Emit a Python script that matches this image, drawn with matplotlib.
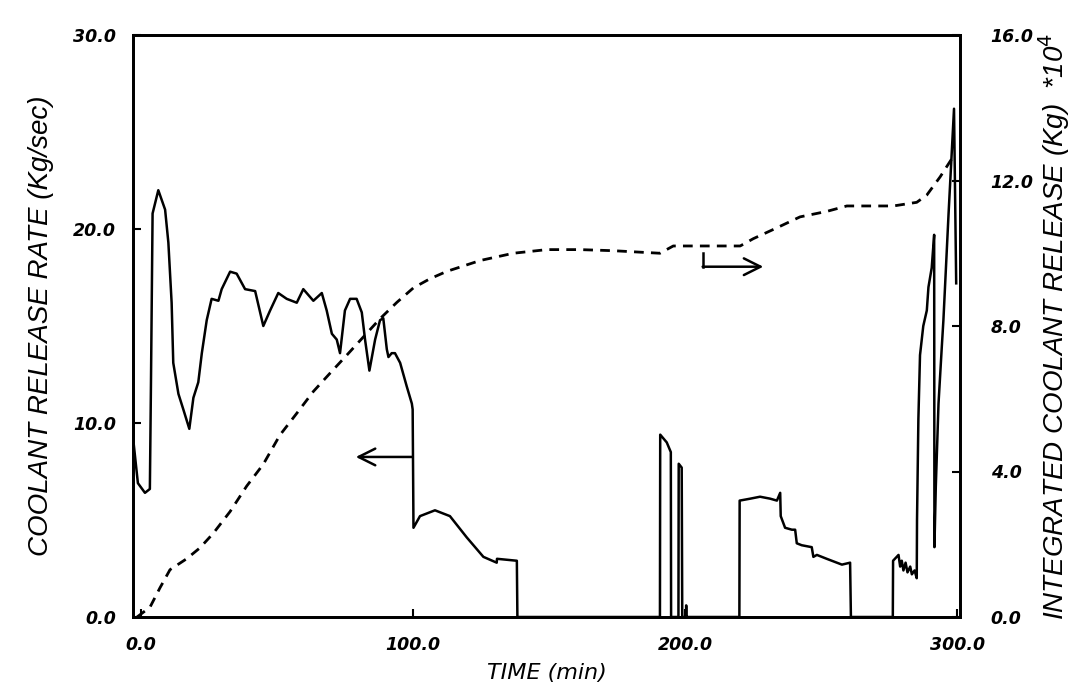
import matplotlib
matplotlib.use("Agg")
import matplotlib.pyplot as plt

# ---- data ----
rate_t = [-3.0, -2.8, -1.2, 1.4, 3.2, 3.6, 4.2, 6.3, 8.8, 10.0, 11.2, 11.8, 13.7, 15.5, 17.7,
          19.2, 21.0, 22.3, 24.1, 25.9, 28.4, 29.6, 32.7, 35.1, 38.2, 41.9, 44.9, 47.4, 50.4,
          53.5, 57.2, 59.6, 63.3, 66.4, 68.2, 70.1, 71.9, 73.1, 74.9, 76.8, 79.2, 81.1, 82.3,
          83.9, 86.0, 87.8, 89.0, 90.3, 90.9, 92.1, 93.3, 95.2, 97.6, 99.5, 99.8, 100.1, 102.5,
          108.0, 113.5, 119.7, 125.8, 130.7, 130.8, 138.1, 138.3,
          190.7, 190.8, 193.2, 194.7, 194.8, 197.5, 197.6, 198.7, 198.9,
          200.3, 200.35, 200.4,
          219.9, 220.0, 223.9, 227.5, 231.2, 233.7, 234.9, 235.1, 236.7, 239.2, 240.4, 241.0,
          242.8, 246.5, 247.1, 248.4, 252.0, 257.6, 260.6, 260.9,
          276.3, 276.4, 278.4, 279.0, 279.6, 280.2, 281.0, 281.7, 282.7, 283.3, 284.3, 285.1,
          285.2, 285.7, 286.3, 287.5, 288.8, 289.4, 290.6, 291.5, 291.6, 292.1, 293.1, 294.3,
          294.9, 296.8, 298.8, 299.6]
rate_v = [13.8, 9.0, 6.9, 6.4, 6.6, 12.0, 20.8, 22.0, 21.0, 19.3, 16.2, 13.1, 11.5, 10.7, 9.7,
          11.3, 12.1, 13.6, 15.3, 16.4, 16.3, 16.9, 17.8, 17.7, 16.9, 16.8, 15.0, 15.8, 16.7,
          16.4, 16.2, 16.9, 16.3, 16.7, 15.8, 14.6, 14.3, 13.6, 15.8, 16.4, 16.4, 15.7, 14.3,
          12.7, 14.3, 15.3, 15.4, 13.8, 13.4, 13.6, 13.6, 13.1, 11.9, 11.0, 10.7, 4.6, 5.2,
          5.5, 5.2, 4.1, 3.1, 2.8, 3.0, 2.9, 0.0,
          0.0, 9.4, 9.0, 8.5, 0.0, 0.0, 7.9, 7.7, 0.0,
          0.0, 0.6, 0.0,
          0.0, 6.0, 6.1, 6.2, 6.1, 6.0, 6.4, 5.2, 4.6, 4.5, 4.5, 3.8,
          3.7, 3.6, 3.1, 3.2, 3.0, 2.7, 2.8, 0.0,
          0.0, 2.9, 3.2, 2.6, 2.9, 2.4, 2.8, 2.3, 2.6, 2.2, 2.4, 2.0,
          5.0, 10.2, 13.5, 15.0, 15.8, 17.0, 18.0, 19.7, 3.6, 6.7, 11.0, 13.9,
          15.3, 20.8, 26.2, 17.2]

integ_t = [-1.5, 3.25, 6.9, 10.6, 16.7, 21.6, 26.5, 32.7, 38.8, 44.9, 51.0, 57.2, 63.3, 69.4,
           75.6, 81.7, 87.8, 94.0, 100.1, 106.2, 112.3, 124.6, 136.8, 149.1, 161.3, 173.6,
           190.7, 195.6, 203.0, 220.2, 225.0, 233.7, 242.2, 252.0, 259.4, 270.4, 276.5,
           285.1, 288.8, 293.7, 298.0]
integ_v = [0.0, 0.27, 0.8, 1.3, 1.6, 1.9, 2.3, 2.9, 3.6, 4.2, 5.0, 5.6, 6.2, 6.7,
           7.2, 7.7, 8.2, 8.65, 9.05, 9.3, 9.5, 9.8, 10.0, 10.1, 10.1, 10.07,
           10.0, 10.2, 10.2, 10.2, 10.4, 10.7, 11.0, 11.15, 11.3, 11.3, 11.3,
           11.4, 11.6, 12.1, 12.6]   # units of 1e4 kg

x_ticks = [0, 100, 200, 300]
x_ticklabels = ["0.0", "100.0", "200.0", "300.0"]
left_ticks = [0, 10, 20, 30]
left_ticklabels = ["0.0", "10.0", "20.0", "30.0"]
right_ticks = [0, 4, 8, 12, 16]
right_ticklabels = ["0.0", "4.0", "8.0", "12.0", "16.0"]

# ---- figure ----
fig = plt.figure(figsize=(10.73, 6.86), dpi=100)
ax = fig.add_axes([133/1073, 1 - 617/686, (960-133)/1073, (617-35)/686])
ax2 = ax.twinx()

ax.plot(rate_t, rate_v, color="black", lw=1.8, solid_joinstyle="round")
ax2.plot(integ_t, integ_v, color="black", lw=2.0, dashes=(3.5, 2.6))

ax.set_xlim(-3, 301)
ax.set_ylim(0, 30)
ax2.set_ylim(0, 16)

tick_font = dict(family="DejaVu Sans", style="italic", size=12.5, weight="bold")
ax.set_xticks(x_ticks)
ax.set_xticklabels(x_ticklabels, **tick_font)
ax.set_yticks(left_ticks)
ax.set_yticklabels(left_ticklabels, **tick_font)
ax2.set_yticks(right_ticks)
ax2.set_yticklabels(right_ticklabels, **tick_font)

ax.tick_params(axis="x", direction="in", length=6, width=1.5, pad=14)
ax.tick_params(axis="y", direction="in", length=6, width=1.5, pad=12)
ax2.tick_params(axis="y", direction="in", length=6, width=1.5, pad=22)
for a in (ax, ax2):
    for s in a.spines.values():
        s.set_linewidth(2.0)

label_font = dict(family="Liberation Sans", style="italic", size=20)
ax.set_xlabel("TIME (min)", fontsize=16, family="DejaVu Sans", style="italic", labelpad=6)
ax.set_ylabel("COOLANT RELEASE RATE (Kg/sec)", labelpad=14, **label_font)
ax2.set_ylabel(r"INTEGRATED COOLANT RELEASE (Kg)  *10$^{4}$", labelpad=2, **label_font)

# arrows
ax.annotate("", xy=(78.9, 8.25), xytext=(99.5, 8.25),
            arrowprops=dict(arrowstyle="->,head_length=0.6,head_width=0.3", lw=1.8,
                            color="black", mutation_scale=20, shrinkA=0, shrinkB=0))
ax2.plot([206.4, 206.4], [10.0, 9.63], color="black", lw=1.8)
ax2.annotate("", xy=(228.7, 9.63), xytext=(206.4, 9.63),
             arrowprops=dict(arrowstyle="->,head_length=0.6,head_width=0.3", lw=1.8,
                             color="black", mutation_scale=20, shrinkA=0, shrinkB=0))

fig.savefig("out.png", dpi=100)
